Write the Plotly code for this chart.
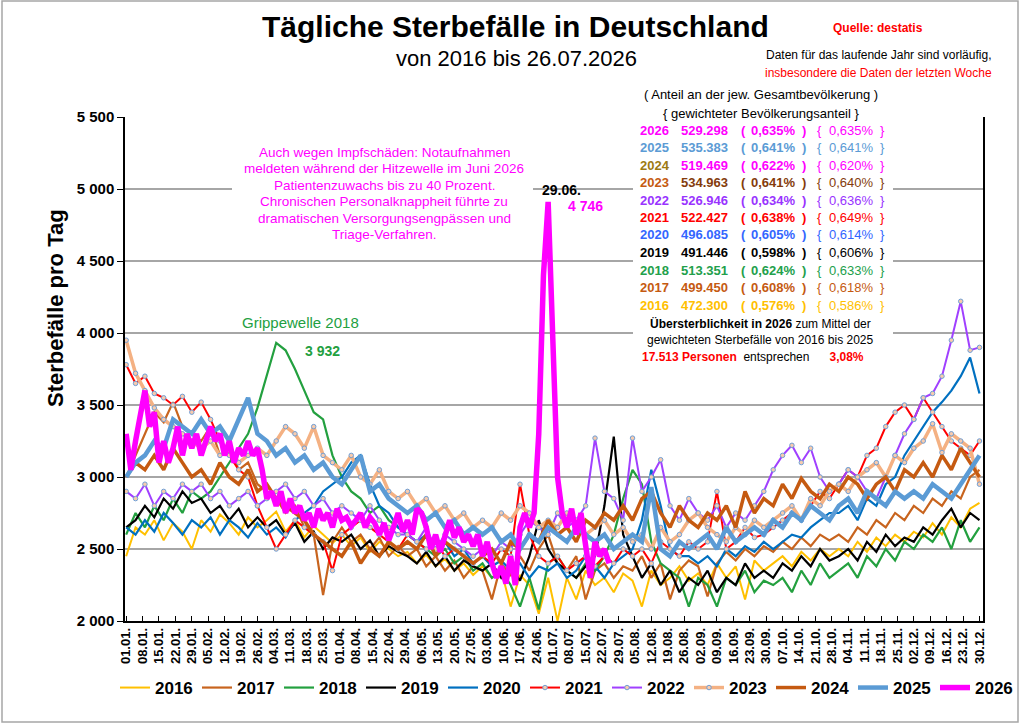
import plotly.graph_objects as go

STEP = 4
STEP_2026 = 2

y2016 = [2450, 2650, 2600, 2700, 2560, 2680, 2620, 2500,
         2700, 2620, 2740, 2680, 2600, 2720, 2650,
         2700, 2760, 2620, 2700, 2580, 2660, 2600, 2540,
         2600, 2520, 2580, 2480, 2550, 2500, 2450,
         2480, 2400, 2460, 2380, 2430, 2350, 2400, 2320,
         2380, 2300, 2350, 2100, 2320, 2250, 2050, 2300,
         2000, 2300, 2150, 2350, 2250, 2300, 2200, 2330,
         2280, 2100, 2350, 2250, 2300, 2380, 2280,
         2330, 2250, 2400, 2300, 2380, 2150, 2420, 2350,
         2400, 2450, 2380, 2480, 2420, 2500, 2450,
         2500, 2450, 2550, 2480, 2580, 2520, 2600, 2550,
         2620, 2580, 2680, 2600, 2720, 2650, 2780, 2820]

y2017 = [3000, 3150, 3300, 3450, 3380, 3520, 3350, 3300,
         3250, 3350, 3150, 3200, 3050, 3100, 2950,
         2900, 2850, 2750, 2800, 2650, 2600, 2180, 2550,
         2650, 2550, 2600, 2500, 2580, 2450, 2520,
         2450, 2500, 2380, 2450, 2350, 2420, 2300, 2380,
         2350, 2150, 2400, 2320, 2450, 2350, 2500, 2600,
         2400, 2350, 2450, 2150, 2350, 2400, 2300, 2380,
         2350, 2450, 2300, 2400, 2150, 2350, 2420,
         2380, 2170, 2400, 2480, 2420, 2500, 2450, 2520,
         2480, 2550, 2500, 2580, 2520, 2600, 2560,
         2600, 2550, 2650, 2600, 2700, 2650, 2750, 2700,
         2800, 2750, 2850, 2800, 2900, 2850, 3000, 3050]

y2018 = [2600, 2750, 2650, 2800, 2700, 2850, 2750, 2900,
         2850, 2900, 3000, 3100, 3200, 3300, 3480,
         3700, 3932, 3880, 3750, 3600, 3450, 3400, 3150,
         3000, 2900, 2850, 2750, 2800, 2700, 2650,
         2600, 2550, 2500, 2450, 2500, 2400, 2450, 2350,
         2400, 2300, 2350, 2250, 2100, 2300, 2080, 2400,
         2450, 2350, 2300, 2400, 2350, 2450, 2600, 2850,
         3050, 2950, 2550, 2400, 2350, 2300, 2100,
         2300, 2250, 2100, 2300, 2250, 2350, 2200, 2280,
         2250, 2300, 2200, 2350, 2250, 2400, 2300,
         2350, 2400, 2300, 2450, 2380, 2500, 2420, 2550,
         2500, 2600, 2550, 2650, 2500, 2700, 2550, 2650]

y2019 = [2650, 2700, 2800, 2720, 2850, 2780, 2900, 2820,
         2850, 2750, 2800, 2700, 2780, 2650, 2720,
         2650, 2700, 2600, 2680, 2550, 2620, 2500, 2580,
         2550, 2600, 2500, 2560, 2450, 2520, 2480,
         2450, 2400, 2480, 2380, 2450, 2350, 2420, 2380,
         2350, 2400, 2300, 2380, 2280, 2450, 2700, 2500,
         2400, 2350, 2300, 2380, 2450, 2800, 3280, 2600,
         2450, 2300, 2400, 2250, 2350, 2200, 2300,
         2250, 2350, 2200, 2300, 2250, 2400, 2300, 2350,
         2300, 2400, 2350, 2450, 2380, 2500, 2420,
         2450, 2500, 2420, 2550, 2480, 2600, 2520, 2580,
         2550, 2650, 2600, 2700, 2780, 2650, 2750, 2700]

y2020 = [2650, 2600, 2700, 2620, 2750, 2680, 2600, 2700,
         2650, 2720, 2600, 2700, 2650, 2580, 2680,
         2600, 2650, 2580, 2700, 2750, 2800, 2900, 2950,
         3000, 3100, 3150, 2950, 2800, 2750, 2650,
         2600, 2550, 2600, 2500, 2550, 2450, 2500, 2400,
         2450, 2380, 2420, 2350, 2400, 2300, 2380, 2350,
         2400, 2300, 2350, 2450, 2380, 2300, 2400, 2450,
         2500, 2700, 3050, 2800, 2500, 2450, 2450,
         2400, 2450, 2380, 2500, 2450, 2520, 2480, 2550,
         2500, 2550, 2600, 2580, 2650, 2700, 2750,
         2750, 2800, 2700, 2850, 2800, 2950, 3000, 3150,
         3250, 3350, 3450, 3520, 3600, 3700, 3830, 3580]

y2021 = [3780, 3650, 3700, 3580, 3550, 3500, 3560, 3450,
         3520, 3400, 3250, 3150, 3050, 3000, 2800,
         2650, 2500, 2600, 2700, 2650, 2600, 2550, 2350,
         2600, 2650, 2700, 2650, 2600, 2550, 2500,
         2600, 2550, 2500, 2550, 2450, 2500, 2450, 2400,
         2450, 2400, 2500, 2450, 2950, 2600, 2450, 2400,
         2450, 2350, 2400, 2450, 2380, 2450, 2400, 2500,
         2450, 2500, 2400, 2550, 2500, 2450, 2550,
         2500, 2550, 2900, 2500, 2550, 2650, 2580, 2600,
         2650, 2700, 2750, 2700, 2800, 2900, 2850,
         2950, 3050, 3000, 3150, 3200, 3350, 3450, 3500,
         3400, 3550, 3450, 3350, 3250, 3200, 3150, 3250]

y2022 = [2900, 2850, 2950, 2800, 2900, 2850, 2950, 2900,
         2950, 2850, 2900, 2800, 2850, 2900, 2800,
         2850, 2900, 2950, 2850, 2900, 2800, 2850, 2750,
         2800, 2750, 2700, 2800, 2700, 2650, 2600,
         2600, 2550, 2650, 2500, 2600, 2550, 2500, 2450,
         2500, 2450, 2550, 2500, 2600, 2700, 2650, 2600,
         2750, 2650, 2700, 2800, 3270, 2900, 2850, 2700,
         3270, 2900, 3000, 3120, 2800, 2700, 2850,
         2750, 2700, 2800, 2650, 2750, 2700, 2800, 2900,
         3050, 3150, 3220, 3100, 3200, 3000, 2900,
         2950, 3050, 3000, 2900, 2850, 3000, 3150, 3300,
         3400, 3550, 3580, 3700, 3950, 4220, 3880, 3900]

y2023 = [3950, 3720, 3600, 3480, 3400, 3350, 3300, 3250,
         3200, 3250, 3150, 3200, 3100, 3150, 3200,
         3150, 3250, 3350, 3300, 3200, 3350, 3150, 3100,
         3050, 3150, 3000, 2950, 3050, 2900, 2850,
         2900, 2800, 2850, 2750, 2800, 2700, 2750, 2650,
         2700, 2650, 2750, 2700, 2800, 2750, 2650, 2700,
         2650, 2750, 2700, 2600, 2650, 2700, 2600, 2650,
         2550, 2600, 2500, 2650, 2550, 2600, 2700,
         2750, 2650, 2600, 2550, 2650, 2600, 2700, 2650,
         2700, 2750, 2800, 2700, 2850, 2800, 2900,
         2950, 2900, 3000, 3050, 3100, 3000, 3150, 3100,
         3200, 3250, 3370, 3170, 3300, 3250, 3200, 2950]

y2024 = [3000, 3100, 3050, 3150, 3050, 3200, 3100, 3000,
         3050, 2950, 3100, 3000, 2950, 3050, 2900,
         2950, 2850, 2800, 2750, 2700, 2600, 2550, 2500,
         2450, 2550, 2400, 2500, 2450, 2550, 2500,
         2550, 2500, 2600, 2450, 2550, 2500, 2450, 2400,
         2450, 2500, 2400, 2550, 2500, 2600, 2550, 2700,
         2600, 2650, 2550, 2700, 2650, 2750, 2700, 2800,
         2700, 2850, 2900, 2750, 2650, 2800, 2700,
         2650, 2750, 2700, 2800, 2650, 2900, 2750, 2850,
         2800, 2950, 2850, 2990, 2900, 2850, 2950,
         2900, 3000, 2950, 2850, 2950, 3000, 2900, 3050,
         3000, 3100, 3000, 3150, 3050, 3200, 3100, 3000]

y2025 = [3000, 3100, 3150, 3250, 3200, 3400, 3350, 3300,
         3400, 3300, 3350, 3250, 3400, 3550, 3300,
         3250, 3150, 3200, 3100, 3150, 3050, 3100, 3000,
         2950, 3050, 3150, 2900, 2950, 2850, 2800,
         2750, 2800, 2700, 2750, 2650, 2700, 2600, 2650,
         2600, 2650, 2550, 2600, 2500, 2600, 2550, 2650,
         2600, 2550, 2650, 2600, 2550, 2600, 2500, 2550,
         2600, 2550, 2930, 2500, 2450, 2550, 2500,
         2550, 2600, 2500, 2650, 2550, 2600, 2650, 2600,
         2700, 2650, 2750, 2700, 2800, 2750, 2700,
         2800, 2850, 2750, 2900, 2850, 2800, 2900, 2850,
         2900, 2850, 2950, 2900, 2850, 2950, 3050, 3150]

y2026 = [3300, 3050, 3250, 3450, 3600, 3350, 3450, 3100, 3250, 3100,
         3200, 3350, 3150, 3300, 3200, 3300, 3150, 3250, 3350, 3250,
         3300, 3150, 3250, 3100, 3200, 3150, 3250, 3150, 3200, 3050,
         2850, 2900, 2800, 2900, 2750, 2850, 2750, 2800, 2700, 2750,
         2650, 2780, 2700, 2750, 2650, 2780, 2700, 2720, 2660, 2700,
         2750, 2650, 2720, 2680, 2600, 2680, 2560, 2650, 2750, 2620,
         2700, 2600, 2780, 2750, 2650, 2500, 2600, 2480, 2600, 2700,
         2580, 2650, 2550, 2600, 2520, 2600, 2450, 2550, 2400, 2300,
         2380, 2260, 2450, 2250, 2650, 2750, 2650, 2750, 3300, 4400,
         4910, 4000, 3000, 2750, 2650, 2780, 2600, 2750, 2550, 2300,
         2550, 2450, 2500, 2400]

years = ["2016", "2017", "2018", "2019", "2020", "2021",
         "2022", "2023", "2024", "2025", "2026"]
line_colors = ["#FFC000", "#C8641E", "#23A03F", "#000000", "#0070C0", "#FF0000",
               "#A040FF", "#F4B183", "#C55A11", "#5B9BD5", "#FF00FF"]
line_widths = [2, 2.2, 2.2, 2.2, 2.2, 2, 2, 3.5, 3.5, 4.5, 5.5]
with_markers = ["2021", "2022", "2023"]
values = [y2016, y2017, y2018, y2019, y2020, y2021,
          y2022, y2023, y2024, y2025, y2026]

tick_labels = ["01.01.", "08.01.", "15.01.", "22.01.", "29.01.", "05.02.", "12.02.",
               "19.02.", "26.02.", "04.03.", "11.03.", "18.03.", "25.03.", "01.04.",
               "08.04.", "15.04.", "22.04.", "29.04.", "06.05.", "13.05.", "20.05.",
               "27.05.", "03.06.", "10.06.", "17.06.", "24.06.", "01.07.", "08.07.",
               "15.07.", "22.07.", "29.07.", "05.08.", "12.08.", "19.08.", "26.08.",
               "02.09.", "09.09.", "16.09.", "23.09.", "30.09.", "07.10.", "14.10.",
               "21.10.", "28.10.", "04.11.", "11.11.", "18.11.", "25.11.", "02.12.",
               "09.12.", "16.12.", "23.12.", "30.12."]

# Tabelle rechts oben
tab_years = ["2026", "2025", "2024", "2023", "2022", "2021",
             "2020", "2019", "2018", "2017", "2016"]
tab_totals = ["529.298", "535.383", "519.469", "534.963", "526.946", "522.427",
              "496.085", "491.446", "513.351", "499.450", "472.300"]
tab_anteil = ["0,635%", "0,641%", "0,622%", "0,641%", "0,634%", "0,638%",
              "0,605%", "0,598%", "0,624%", "0,608%", "0,576%"]
tab_gewichtet = ["0,635%", "0,641%", "0,620%", "0,640%", "0,636%", "0,649%",
                 "0,614%", "0,606%", "0,633%", "0,618%", "0,586%"]
tab_year_colors = ["#FF00FF", "#5B9BD5", "#9C7A12", "#C55A11", "#9933FF", "#FF0000",
                   "#3366FF", "#000000", "#22A04B", "#C55A11", "#FFC000"]
tab_val_colors = ["#FF00FF", "#5B9BD5", "#FF00FF", "#843C0C", "#9933FF", "#FF0000",
                  "#3366FF", "#000000", "#22A04B", "#C55A11", "#FFC000"]

info_lines = ["Auch wegen Impfschäden: Notaufnahmen",
              "meldeten während der Hitzewelle im Juni 2026",
              "Patientenzuwachs bis zu 40 Prozent.",
              "Chronischen Personalknappheit führte zu",
              "dramatischen Versorgungsengpässen und",
              "Triage-Verfahren."]

# Pixelgeometrie der Zeichenfläche
L, R, T, B = 125, 983, 117, 621


def px(x):
    return (x - L) / (R - L)


def py(y):
    return (B - y) / (B - T)


def note(x, y, text, size, color="black", bold=False, xanchor="center", angle=0):
    return dict(x=px(x), y=py(y), xref="paper", yref="paper",
                text=f"<b>{text}</b>" if bold else text, showarrow=False,
                font=dict(size=size, color=color), xanchor=xanchor,
                yanchor="middle", textangle=angle)


fig = go.Figure()
for name, vals, col, w in zip(years, values, line_colors, line_widths):
    step = STEP_2026 if name == "2026" else STEP
    tr = dict(x=[i * step for i in range(len(vals))], y=vals, name=name,
              mode="lines", line=dict(color=col, width=w))
    if name in with_markers:
        tr["mode"] = "lines+markers"
        tr["marker"] = dict(symbol="circle", size=4.5, color="#F8CBAD",
                            line=dict(color="#6FA0D8", width=1))
    fig.add_trace(go.Scatter(**tr))

ann = []
ann.append(note(515, 27, "Tägliche Sterbefälle in Deutschland", 30, bold=True))
ann.append(note(516, 59, "von 2016 bis 26.07.2026", 22))
ann.append(note(878, 28, "Quelle: destatis", 12, "#FF0000", bold=True))
ann.append(note(878, 55, "Daten für das laufende Jahr sind vorläufig,", 12))
ann.append(note(878, 73, "insbesondere die Daten der letzten Woche", 12, "#FF0000"))
ann.append(note(55, 308, "Sterbefälle pro Tag", 22, bold=True, angle=-90))

ann.append(note(761, 95, "( Anteil an der jew. Gesamtbevölkerung )", 13))
ann.append(note(761, 113, "{ gewichteter Bevölkerungsanteil }", 13))
for i in range(len(tab_years)):
    yy = 130 + i * 17.5
    vc = tab_val_colors[i]
    ann.append(note(638, yy, tab_years[i], 13, tab_year_colors[i], True, "left"))
    ann.append(note(679, yy, tab_totals[i], 13, vc, True, "left"))
    ann.append(note(743, yy, "(", 13, vc, True))
    ann.append(note(773, yy, tab_anteil[i], 13, vc, True))
    ann.append(note(804, yy, ")", 13, vc, True))
    ann.append(note(819, yy, "{", 13, vc))
    ann.append(note(851, yy, tab_gewichtet[i], 13, vc))
    ann.append(note(882, yy, "}", 13, vc))
ann.append(note(760, 323, "<b>Übersterblichkeit in 2026</b> zum Mittel der", 12))
ann.append(note(760, 340, "gewichteten Sterbefälle von 2016 bis 2025", 12))
ann.append(note(640, 357, "<span style='color:#FF0000'><b>17.513 Personen</b></span>"
                "  entsprechen      <span style='color:#FF0000'><b>3,08%</b></span>",
                12, xanchor="left"))

for k, line in enumerate(info_lines):
    ann.append(note(384, 152 + k * 16.6, line, 13.5, "#FF00FF"))
ann.append(note(561, 190, "29.06.", 14, bold=True))
ann.append(note(585, 206, "4 746", 14, "#FF00FF", bold=True))
ann.append(note(300, 322, "Grippewelle 2018", 15, "#23A03F"))
ann.append(note(322, 351, "3 932", 14, "#23A03F", bold=True))

shapes = [
    dict(type="rect", xref="paper", yref="paper", x0=px(633), x1=px(893),
         y0=py(365), y1=py(85), fillcolor="white", line=dict(width=0), layer="above"),
    dict(type="rect", xref="paper", yref="paper", x0=px(232), x1=px(533),
         y0=py(243), y1=py(143), fillcolor="white", line=dict(width=0), layer="above"),
    dict(type="rect", xref="paper", yref="paper", x0=px(2), x1=px(1018),
         y0=py(722), y1=py(1), line=dict(color="#A6A6A6", width=1.5), layer="above"),
]

fig.update_layout(
    width=1024, height=724, autosize=False,
    margin=dict(l=L, r=1024 - R, t=T, b=724 - B),
    paper_bgcolor="white", plot_bgcolor="white",
    font=dict(family="Liberation Sans, Arial, sans-serif", color="black"),
    separators=", ",
    annotations=ann, shapes=shapes,
    legend=dict(orientation="h", x=px(115), xanchor="left", y=py(688), yanchor="middle",
                font=dict(size=17, weight="bold"), entrywidth=37, entrywidthmode="pixels",
                bgcolor="rgba(0,0,0,0)", traceorder="normal"),
)
fig.update_xaxes(range=[-0.5, 365.5], tickmode="array",
                 tickvals=[7 * i for i in range(len(tick_labels))], ticktext=tick_labels,
                 tickangle=-90, tickfont=dict(size=13, weight="bold"),
                 ticks="inside", ticklen=5, tickcolor="black", showline=True,
                 linecolor="black", linewidth=1.5, showgrid=False, zeroline=False)
fig.update_yaxes(range=[2000, 5500], tick0=2000, dtick=500, tickformat=",d",
                 tickfont=dict(size=15, weight="bold"), ticks="outside", ticklen=6,
                 tickcolor="black", showline=True, mirror=True, linecolor="black",
                 linewidth=1.5, gridcolor="#A6A6A6", gridwidth=1.5, zeroline=False)

fig.write_html("out.html", config={"displayModeBar": False},
               post_script="document.body.style.margin='0';")
